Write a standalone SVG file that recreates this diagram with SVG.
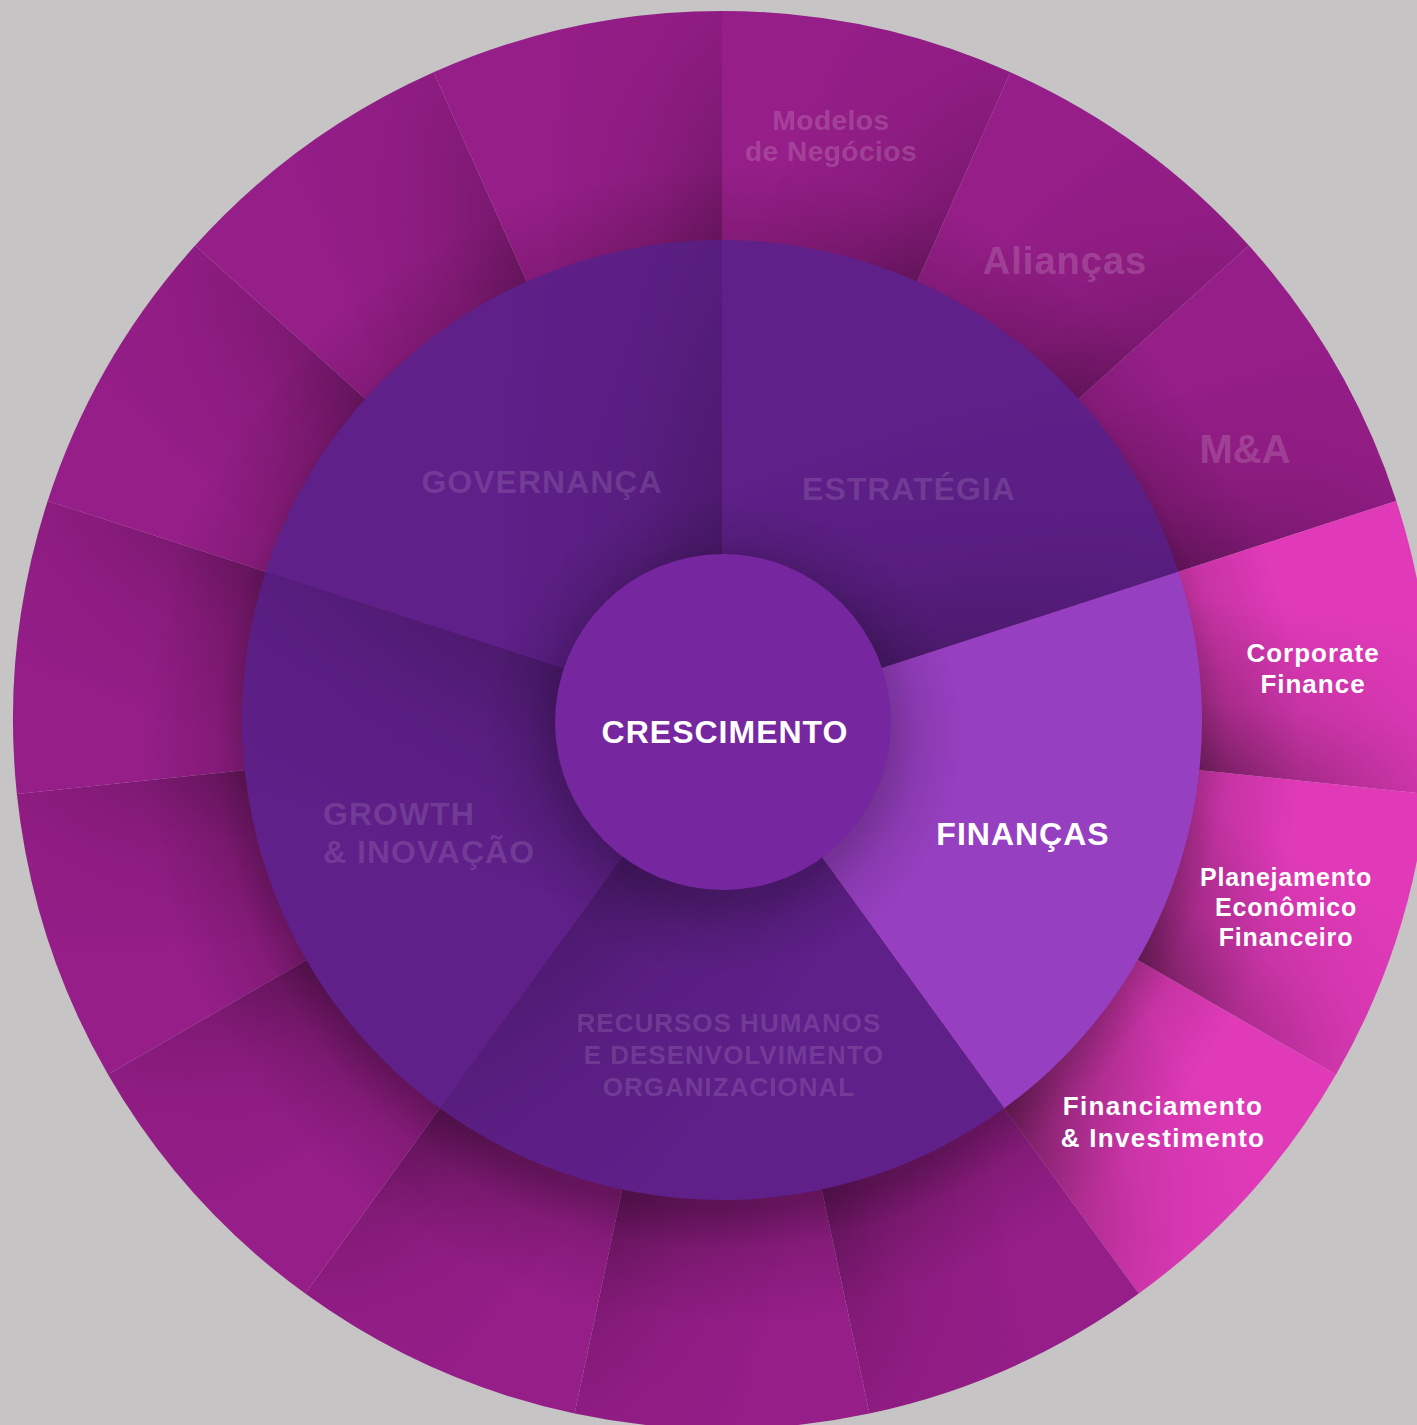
<svg xmlns="http://www.w3.org/2000/svg" xmlns:xlink="http://www.w3.org/1999/xlink" width="1417" height="1425" viewBox="0 0 1417 1425">
<style>
.t{font-family:"Liberation Sans",Arial,sans-serif;font-weight:bold;text-anchor:middle}
.w{fill:#ffffff}
.fm{fill:#ffffff;fill-opacity:0.18}
.fp{fill:#ffffff;fill-opacity:0.13}
.mag{fill:#951e88}
.pink{fill:#e03ab9}
.pur{fill:#5f2089}
</style>
<defs>
<linearGradient id="sh"><stop offset="0" stop-color="#000" stop-opacity="0.24"/><stop offset="0.4" stop-color="#000" stop-opacity="0.1"/><stop offset="1" stop-color="#000" stop-opacity="0"/></linearGradient>
<linearGradient id="shp"><stop offset="0" stop-color="#000" stop-opacity="0.4"/><stop offset="0.4" stop-color="#000" stop-opacity="0.17"/><stop offset="1" stop-color="#000" stop-opacity="0"/></linearGradient>
<linearGradient id="shm"><stop offset="0" stop-color="#000" stop-opacity="0.22"/><stop offset="0.4" stop-color="#000" stop-opacity="0.08"/><stop offset="1" stop-color="#000" stop-opacity="0"/></linearGradient>
<linearGradient id="s1" xlink:href="#sh" gradientUnits="userSpaceOnUse" x1="884.70" y1="354.58" x2="729.40" y2="285.43"/>
<linearGradient id="s2" xlink:href="#sh" gradientUnits="userSpaceOnUse" x1="1019.26" y1="452.35" x2="905.51" y2="326.02"/>
<linearGradient id="s3" xlink:href="#sh" gradientUnits="userSpaceOnUse" x1="1102.42" y1="596.39" x2="1049.89" y2="434.71"/>
<linearGradient id="s4" xlink:href="#shp" gradientUnits="userSpaceOnUse" x1="1119.81" y1="761.81" x2="1137.58" y2="592.74"/>
<linearGradient id="s5" xlink:href="#shp" gradientUnits="userSpaceOnUse" x1="1068.41" y1="920" x2="1153.41" y2="772.77"/>
<linearGradient id="s6" xlink:href="#shp" gradientUnits="userSpaceOnUse" x1="957.12" y1="1043.61" x2="1094.65" y2="943.69"/>
<linearGradient id="s7" xlink:href="#sh" gradientUnits="userSpaceOnUse" x1="805.16" y1="1111.26" x2="971.45" y2="1075.92"/>
<linearGradient id="s8" xlink:href="#sh" gradientUnits="userSpaceOnUse" x1="638.84" y1="1111.26" x2="805.13" y2="1146.60"/>
<linearGradient id="s9" xlink:href="#sh" gradientUnits="userSpaceOnUse" x1="486.88" y1="1043.61" x2="624.41" y2="1143.53"/>
<linearGradient id="s10" xlink:href="#sh" gradientUnits="userSpaceOnUse" x1="375.59" y1="920" x2="460.59" y2="1067.23"/>
<linearGradient id="s11" xlink:href="#sh" gradientUnits="userSpaceOnUse" x1="324.19" y1="761.81" x2="341.96" y2="930.88"/>
<linearGradient id="s12" xlink:href="#sh" gradientUnits="userSpaceOnUse" x1="341.58" y1="596.39" x2="289.05" y2="758.07"/>
<linearGradient id="s13" xlink:href="#sh" gradientUnits="userSpaceOnUse" x1="424.74" y1="452.35" x2="310.99" y2="578.68"/>
<linearGradient id="s14" xlink:href="#sh" gradientUnits="userSpaceOnUse" x1="559.30" y1="354.58" x2="404.00" y2="424.73"/>
<linearGradient id="s15" xlink:href="#sh" gradientUnits="userSpaceOnUse" x1="722" y1="320" x2="552" y2="320"/>
<linearGradient id="mGov" xlink:href="#shm" gradientUnits="userSpaceOnUse" x1="722" y1="420" x2="502" y2="420"/>
<linearGradient id="mEst" xlink:href="#shm" gradientUnits="userSpaceOnUse" x1="1007.32" y1="627.29" x2="939.34" y2="418.06"/>
<linearGradient id="mRh" xlink:href="#shm" gradientUnits="userSpaceOnUse" x1="545.66" y1="962.71" x2="723.64" y2="1092.02"/>
<linearGradient id="mGro" xlink:href="#shm" gradientUnits="userSpaceOnUse" x1="436.68" y1="627.29" x2="368.70" y2="836.52"/>
<radialGradient id="rOut" gradientUnits="userSpaceOnUse" cx="722" cy="720" r="709"><stop offset="0.677" stop-color="#fff"/><stop offset="1" stop-color="#333"/></radialGradient>
<radialGradient id="rMid" gradientUnits="userSpaceOnUse" cx="722" cy="720" r="480"><stop offset="0.35" stop-color="#fff"/><stop offset="1" stop-color="#555"/></radialGradient>
<radialGradient id="ringShadow" gradientUnits="userSpaceOnUse" cx="722" cy="745" r="580"><stop offset="0.8" stop-color="#000" stop-opacity="0.32"/><stop offset="0.87" stop-color="#000" stop-opacity="0.12"/><stop offset="1" stop-color="#000" stop-opacity="0"/></radialGradient>
<radialGradient id="cShadow" gradientUnits="userSpaceOnUse" cx="723" cy="735" r="240"><stop offset="0.68" stop-color="#000" stop-opacity="0.22"/><stop offset="0.82" stop-color="#000" stop-opacity="0.08"/><stop offset="1" stop-color="#000" stop-opacity="0"/></radialGradient>
<mask id="mOut" maskUnits="userSpaceOnUse" x="0" y="0" width="1417" height="1425"><rect width="1417" height="1425" fill="url(#rOut)"/></mask>
<mask id="mMid" maskUnits="userSpaceOnUse" x="0" y="0" width="1417" height="1425"><rect width="1417" height="1425" fill="url(#rMid)"/></mask>
<clipPath id="discClip"><circle cx="722" cy="720" r="709"/></clipPath>
</defs>
<rect width="1417" height="1425" fill="#c6c4c5"/>

<g id="outer-ring">
<g id="modelos-de-negocios">
<path class="mag" d="M722,720 L722,11 A709,709 0 0 1 1010.38,72.29 Z"/>
<path fill="url(#s1)" mask="url(#mOut)" d="M722,720 L722,11 A709,709 0 0 1 1010.38,72.29 Z"/>
</g>
<g id="aliancas">
<path class="mag" d="M722,720 L1010.38,72.29 A709,709 0 0 1 1248.89,245.59 Z"/>
<path fill="url(#s2)" mask="url(#mOut)" d="M722,720 L1010.38,72.29 A709,709 0 0 1 1248.89,245.59 Z"/>
</g>
<g id="m-a">
<path class="mag" d="M722,720 L1248.89,245.59 A709,709 0 0 1 1396.30,500.90 Z"/>
<path fill="url(#s3)" mask="url(#mOut)" d="M722,720 L1248.89,245.59 A709,709 0 0 1 1396.30,500.90 Z"/>
</g>
<g id="corporate-finance">
<path class="pink" d="M722,720 L1396.30,500.90 A709,709 0 0 1 1427.11,794.11 Z"/>
<path fill="url(#s4)" mask="url(#mOut)" d="M722,720 L1396.30,500.90 A709,709 0 0 1 1427.11,794.11 Z"/>
</g>
<g id="planejamento">
<path class="pink" d="M722,720 L1427.11,794.11 A709,709 0 0 1 1336.01,1074.5 Z"/>
<path fill="url(#s5)" mask="url(#mOut)" d="M722,720 L1427.11,794.11 A709,709 0 0 1 1336.01,1074.5 Z"/>
</g>
<g id="financiamento">
<path class="pink" d="M722,720 L1336.01,1074.5 A709,709 0 0 1 1138.74,1293.59 Z"/>
<path fill="url(#s6)" mask="url(#mOut)" d="M722,720 L1336.01,1074.5 A709,709 0 0 1 1138.74,1293.59 Z"/>
</g>
<g id="outer-7">
<path class="mag" d="M722,720 L1138.74,1293.59 A709,709 0 0 1 869.41,1413.51 Z"/>
<path fill="url(#s7)" mask="url(#mOut)" d="M722,720 L1138.74,1293.59 A709,709 0 0 1 869.41,1413.51 Z"/>
</g>
<g id="outer-8">
<path class="mag" d="M722,720 L869.41,1413.51 A709,709 0 0 1 574.59,1413.51 Z"/>
<path fill="url(#s8)" mask="url(#mOut)" d="M722,720 L869.41,1413.51 A709,709 0 0 1 574.59,1413.51 Z"/>
</g>
<g id="outer-9">
<path class="mag" d="M722,720 L574.59,1413.51 A709,709 0 0 1 305.26,1293.59 Z"/>
<path fill="url(#s9)" mask="url(#mOut)" d="M722,720 L574.59,1413.51 A709,709 0 0 1 305.26,1293.59 Z"/>
</g>
<g id="outer-10">
<path class="mag" d="M722,720 L305.26,1293.59 A709,709 0 0 1 107.99,1074.5 Z"/>
<path fill="url(#s10)" mask="url(#mOut)" d="M722,720 L305.26,1293.59 A709,709 0 0 1 107.99,1074.5 Z"/>
</g>
<g id="outer-11">
<path class="mag" d="M722,720 L107.99,1074.5 A709,709 0 0 1 16.89,794.11 Z"/>
<path fill="url(#s11)" mask="url(#mOut)" d="M722,720 L107.99,1074.5 A709,709 0 0 1 16.89,794.11 Z"/>
</g>
<g id="outer-12">
<path class="mag" d="M722,720 L16.89,794.11 A709,709 0 0 1 47.70,500.90 Z"/>
<path fill="url(#s12)" mask="url(#mOut)" d="M722,720 L16.89,794.11 A709,709 0 0 1 47.70,500.90 Z"/>
</g>
<g id="outer-13">
<path class="mag" d="M722,720 L47.70,500.90 A709,709 0 0 1 195.11,245.59 Z"/>
<path fill="url(#s13)" mask="url(#mOut)" d="M722,720 L47.70,500.90 A709,709 0 0 1 195.11,245.59 Z"/>
</g>
<g id="outer-14">
<path class="mag" d="M722,720 L195.11,245.59 A709,709 0 0 1 433.62,72.29 Z"/>
<path fill="url(#s14)" mask="url(#mOut)" d="M722,720 L195.11,245.59 A709,709 0 0 1 433.62,72.29 Z"/>
</g>
<g id="outer-15">
<path class="mag" d="M722,720 L433.62,72.29 A709,709 0 0 1 722,11 Z"/>
<path fill="url(#s15)" mask="url(#mOut)" d="M722,720 L433.62,72.29 A709,709 0 0 1 722,11 Z"/>
</g>
<circle cx="722" cy="745" r="580" fill="url(#ringShadow)" clip-path="url(#discClip)"/>
<g id="outer-labels">
<text class="t fm" font-size="28" letter-spacing="0.5" x="831" y="130">Modelos</text>
<text class="t fm" font-size="28" letter-spacing="0.5" x="831" y="161">de Negócios</text>
<text class="t fm" font-size="38" letter-spacing="1" x="1065" y="274">Alianças</text>
<text class="t fm" font-size="40" x="1245" y="463">M&amp;A</text>
<text class="t w" font-size="26" letter-spacing="1" x="1313" y="662">Corporate</text>
<text class="t w" font-size="26" letter-spacing="1" x="1313" y="693">Finance</text>
<text class="t w" font-size="25" letter-spacing="0.8" x="1286" y="886">Planejamento</text>
<text class="t w" font-size="25" letter-spacing="0.8" x="1286" y="916">Econômico</text>
<text class="t w" font-size="25" letter-spacing="0.8" x="1286" y="946">Financeiro</text>
<text class="t w" font-size="26" letter-spacing="1.3" x="1163" y="1115">Financiamento</text>
<text class="t w" font-size="26" letter-spacing="1.3" x="1163" y="1147">&amp; Investimento</text>
</g>
</g>

<g id="middle-ring">
<g id="governanca">
<path class="pur" d="M722,720 L265.49,571.67 A480,480 0 0 1 722,240 Z"/>
<path fill="url(#mGov)" mask="url(#mMid)" d="M722,720 L265.49,571.67 A480,480 0 0 1 722,240 Z"/>
</g>
<g id="estrategia">
<path class="pur" d="M722,720 L722,240 A480,480 0 0 1 1178.51,571.67 Z"/>
<path fill="url(#mEst)" mask="url(#mMid)" d="M722,720 L722,240 A480,480 0 0 1 1178.51,571.67 Z"/>
</g>
<g id="financas">
<path fill="#963fc0" d="M722,720 L1178.51,571.67 A480,480 0 0 1 1004.14,1108.33 Z"/>
</g>
<g id="recursos-humanos">
<path class="pur" d="M722,720 L1004.14,1108.33 A480,480 0 0 1 439.86,1108.33 Z"/>
<path fill="url(#mRh)" mask="url(#mMid)" d="M722,720 L1004.14,1108.33 A480,480 0 0 1 439.86,1108.33 Z"/>
</g>
<g id="growth-inovacao">
<path class="pur" d="M722,720 L439.86,1108.33 A480,480 0 0 1 265.49,571.67 Z"/>
<path fill="url(#mGro)" mask="url(#mMid)" d="M722,720 L439.86,1108.33 A480,480 0 0 1 265.49,571.67 Z"/>
</g>
<circle cx="723" cy="735" r="240" fill="url(#cShadow)"/>
<g id="middle-labels">
<text class="t fp" font-size="32" letter-spacing="1" x="542" y="493">GOVERNANÇA</text>
<text class="t fp" font-size="32" letter-spacing="1" x="909" y="500">ESTRATÉGIA</text>
<text class="t w" font-size="32" letter-spacing="1" x="1023" y="845">FINANÇAS</text>
<text class="t fp" font-size="26" letter-spacing="1" x="729" y="1032">RECURSOS HUMANOS</text>
<text class="t fp" font-size="26" letter-spacing="1" x="734" y="1064">E DESENVOLVIMENTO</text>
<text class="t fp" font-size="26" letter-spacing="1" x="729" y="1096">ORGANIZACIONAL</text>
<text class="t fp" font-size="32" letter-spacing="1" x="323" y="825" style="text-anchor:start">GROWTH</text>
<text class="t fp" font-size="32" letter-spacing="1" x="323" y="863" style="text-anchor:start">&amp; INOVAÇÃO</text>
</g>
</g>

<g id="crescimento">
<circle cx="723" cy="722" r="168" fill="#76279f"/>
<text class="t w" font-size="32" letter-spacing="1" x="725" y="743">CRESCIMENTO</text>
</g>
<g id="connectors"/>
</svg>
